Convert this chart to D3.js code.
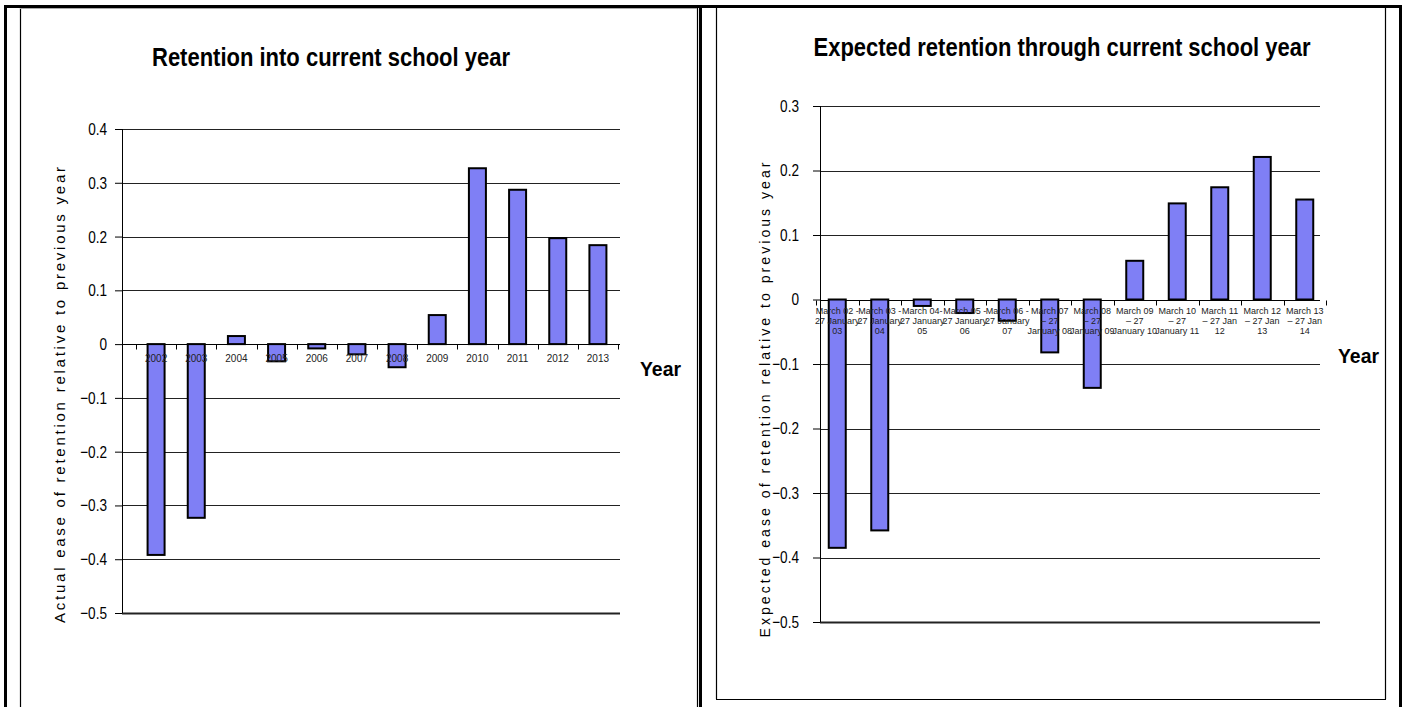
<!DOCTYPE html>
<html>
<head>
<meta charset="utf-8">
<script src="https://cdn.jsdelivr.net/npm/d3@7"></script>
<style>
  body { margin: 0; background: #fff; }
  svg { display: block; }
</style>
</head>
<body>
<div id="charts"></div>
<script>
// data for the left chart (actual retention)
var actualYears = ["2002", "2003", "2004", "2005", "2006", "2007", "2008", "2009", "2010", "2011", "2012", "2013"];
var actualValues = [-0.392, -0.323, 0.015, -0.032, -0.008, -0.019, -0.043, 0.054, 0.327, 0.287, 0.197, 0.184];
var actualTicks = [0.4, 0.3, 0.2, 0.1, 0, -0.1, -0.2, -0.3, -0.4, -0.5];

// data for the right chart (expected retention), labels wrapped like the original
var expectedPeriods = [
  ["March 02 -", "27 January", "03"],
  ["March 03 -", "27 January", "04"],
  ["March 04-", "27 January", "05"],
  ["March 05 -", "27 January", "06"],
  ["March 06 -", "27 January", "07"],
  ["March 07", "\u2013 27", "January 08"],
  ["March 08", "\u2013 27", "January 09"],
  ["March 09", "\u2013 27", "January 10"],
  ["March 10", "\u2013 27", "January 11"],
  ["March 11", "\u2013 27 Jan", "12"],
  ["March 12", "\u2013 27 Jan", "13"],
  ["March 13", "\u2013 27 Jan", "14"]
];
var expectedValues = [-0.385, -0.358, -0.01, -0.021, -0.033, -0.082, -0.137, 0.06, 0.149, 0.174, 0.221, 0.155];
var expectedTicks = [0.3, 0.2, 0.1, 0, -0.1, -0.2, -0.3, -0.4, -0.5];

var width = 1402, height = 707;
var barFill = "#7f7ff5";
var font = "'Liberation Sans', Arial, sans-serif";

var svg = d3.select("#charts")
            .append("svg")
            .attr("width", width)
            .attr("height", height);

// page frame like the document table
var frame = svg.append("g").attr("stroke", "#000").attr("fill", "none");
frame.append("line").attr("x1", 4).attr("x2", 1402).attr("y1", 6.5).attr("y2", 6.5).attr("stroke-width", 3);
frame.append("line").attr("x1", 5.5).attr("x2", 5.5).attr("y1", 5).attr("y2", height).attr("stroke-width", 3);
frame.append("line").attr("x1", 700.5).attr("x2", 700.5).attr("y1", 5).attr("y2", height).attr("stroke-width", 3);
frame.append("line").attr("x1", 1400.5).attr("x2", 1400.5).attr("y1", 5).attr("y2", height).attr("stroke-width", 3);
frame.append("line").attr("x1", 20.5).attr("x2", 20.5).attr("y1", 8).attr("y2", height).attr("stroke-width", 1.2);
frame.append("line").attr("x1", 697.5).attr("x2", 697.5).attr("y1", 8).attr("y2", height).attr("stroke-width", 1.2);
frame.append("line").attr("x1", 716.5).attr("x2", 716.5).attr("y1", 8).attr("y2", 699).attr("stroke-width", 1.2);
frame.append("line").attr("x1", 1385.5).attr("x2", 1385.5).attr("y1", 8).attr("y2", 699).attr("stroke-width", 1.2);
frame.append("line").attr("x1", 716).attr("x2", 1386).attr("y1", 699.5).attr("y2", 699.5).attr("stroke-width", 1.2);
frame.append("line").attr("x1", 20).attr("x2", 697).attr("y1", 8.5).attr("y2", 8.5).attr("stroke", "#aaa").attr("stroke-width", 1);

// draws one bar chart panel
function drawPanel(opt) {
  var g = svg.append("g");

  var yScale = d3.scaleLinear()
                 .domain([-0.5, opt.ticks[0]])
                 .range([opt.bottom, opt.top]);

  var xScale = d3.scaleBand()
                 .domain(d3.range(opt.values.length))
                 .range([opt.bandLeft, opt.bandRight]);

  // title, squeezed to look like the narrow font of the original
  g.append("text")
   .attr("x", opt.titleX)
   .attr("y", opt.titleY)
   .attr("text-anchor", "middle")
   .attr("textLength", opt.titleLength)
   .attr("lengthAdjust", "spacingAndGlyphs")
   .style("font-family", font)
   .style("font-weight", "bold")
   .style("font-size", "25px")
   .style("fill", "#000")
   .text(opt.title);

  // gridlines
  g.selectAll(".grid")
   .data(opt.ticks)
   .enter()
   .append("line")
   .attr("x1", opt.axisX)
   .attr("x2", opt.gridRight)
   .attr("y1", function(d) { return Math.round(yScale(d)) + 0.5; })
   .attr("y2", function(d) { return Math.round(yScale(d)) + 0.5; })
   .attr("stroke", function(d) { return d === 0 ? "#000" : "#222"; })
   .attr("stroke-width", function(d) { return d === -0.5 ? 2 : 1; });

  // y axis
  var yAxis = g.append("g")
               .attr("transform", "translate(" + opt.axisX + ",0)")
               .call(d3.axisLeft(yScale)
                       .tickValues(opt.ticks)
                       .tickSize(7)
                       .tickFormat(function(d) { return d === 0 ? "0" : d3.format(".1f")(d); }));
  yAxis.select(".domain").attr("stroke", "#000").attr("d", "M0.5," + yScale(opt.ticks[0]) + "V" + yScale(-0.5));
  yAxis.selectAll(".tick line").attr("stroke", "#000");
  yAxis.selectAll(".tick text")
       .style("font-family", font)
       .style("font-size", "17px")
       .style("fill", "#000")
       .attr("transform", "scale(0.8,1)")
       .attr("x", -opt.tickPad / 0.8);

  // bars
  var bw = 17;
  g.selectAll(".bars")
   .data(opt.values)
   .enter()
   .append("rect")
   .attr("class", "bars")
   .attr("x", function(d, i) { return xScale(i) + xScale.bandwidth() / 2 - bw / 2; })
   .attr("y", function(d) { return yScale(Math.max(0, d)); })
   .attr("width", bw)
   .attr("height", function(d) { return Math.abs(yScale(d) - yScale(0)); })
   .style("fill", barFill)
   .style("stroke", "#000")
   .style("stroke-width", 2);

  // category ticks on the zero line
  var y0 = Math.round(yScale(0)) + 0.5;
  g.selectAll(".cat-tick")
   .data(d3.range(opt.values.length + 1))
   .enter()
   .append("line")
   .attr("x1", function(i) { return Math.round(opt.bandLeft + i * xScale.step()) + 0.5; })
   .attr("x2", function(i) { return Math.round(opt.bandLeft + i * xScale.step()) + 0.5; })
   .attr("y1", y0)
   .attr("y2", y0 + 5)
   .attr("stroke", "#000");

  // category labels
  var labels = g.selectAll(".cat-label")
   .data(opt.labels)
   .enter()
   .append("text")
   .attr("text-anchor", "middle")
   .attr("x", function(d, i) { return xScale(i) + xScale.bandwidth() / 2; })
   .attr("y", y0 + opt.labelDy)
   .style("font-family", font)
   .style("font-size", opt.labelSize + "px")
   .style("fill", "#222");
  labels.each(function(d) {
    var t = d3.select(this);
    var lines = Array.isArray(d) ? d : [d];
    lines.forEach(function(line, k) {
      t.append("tspan")
       .attr("x", t.attr("x"))
       .attr("dy", k === 0 ? 0 : opt.labelSize + 1)
       .text(line);
    });
  });

  // x axis title
  g.append("text")
   .attr("x", opt.yearX)
   .attr("y", opt.yearY)
   .attr("textLength", 41)
   .attr("lengthAdjust", "spacingAndGlyphs")
   .style("font-family", font)
   .style("font-weight", "bold")
   .style("font-size", "21px")
   .style("fill", "#000")
   .text("Year");

  // y axis title
  g.append("text")
   .attr("transform", "translate(" + opt.yLabelX + "," + opt.yLabelY + ") rotate(-90)")
   .attr("text-anchor", "middle")
   .attr("textLength", opt.yLabelLength)
   .attr("lengthAdjust", "spacing")
   .style("font-family", font)
   .style("font-size", opt.yLabelSize + "px")
   .style("fill", "#000")
   .text(opt.yLabel);
}

drawPanel({
  title: "Retention into current school year",
  titleX: 331, titleY: 66, titleLength: 358,
  values: actualValues,
  labels: actualYears,
  ticks: actualTicks,
  top: 129, bottom: 613,
  axisX: 122, gridRight: 620,
  bandLeft: 136, bandRight: 618,
  tickPad: 15,
  labelDy: 17, labelSize: 10,
  yearX: 640, yearY: 376,
  yLabelX: 65, yLabelY: 395, yLabelLength: 456, yLabelSize: 15,
  yLabel: "Actual ease of retention relative to previous year"
});

drawPanel({
  title: "Expected retention through current school year",
  titleX: 1062, titleY: 56, titleLength: 497,
  values: expectedValues,
  labels: expectedPeriods,
  ticks: expectedTicks,
  top: 106, bottom: 622,
  axisX: 820, gridRight: 1320,
  bandLeft: 816, bandRight: 1326,
  tickPad: 21,
  labelDy: 13, labelSize: 9,
  yearX: 1338, yearY: 363,
  yLabelX: 770, yLabelY: 400, yLabelLength: 475, yLabelSize: 14,
  yLabel: "Expected ease of retention relative to previous year"
});
</script>
</body>
</html>
